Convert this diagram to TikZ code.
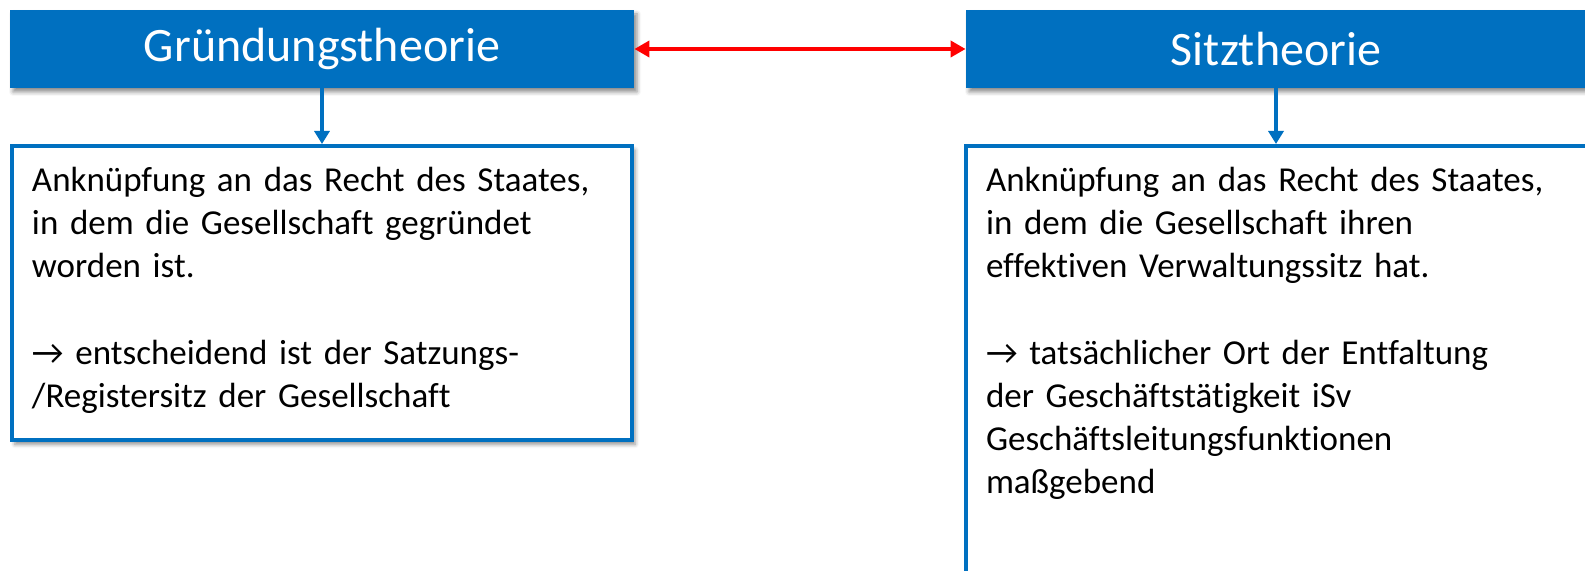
\documentclass[tikz,border=0pt]{standalone}
\usepackage{fontspec}
\setmainfont{Carlito}[Ligatures=NoCommon]
\usepackage{tikz}
\usetikzlibrary{arrows.meta,shadows.blur}
\definecolor{hdblue}{RGB}{0,112,192}

\begin{document}
\begin{tikzpicture}[x=0.5pt,y=-0.5pt,
    head_node/.style={rectangle,fill=hdblue,text=white,minimum height=39pt,inner sep=0pt,
        font=\fontsize{24}{28}\selectfont,
        blur shadow={shadow xshift=1.5pt,shadow yshift=-2pt,shadow blur radius=2pt,shadow opacity=45}},
    text_node/.style={rectangle,draw=hdblue,line width=2pt,fill=white,anchor=north west,
        align=left,inner xsep=10pt,inner ysep=10.5pt,text width=290pt,
        font=\fontsize{17.5}{21.6}\selectfont,
        blur shadow={shadow xshift=1.5pt,shadow yshift=-2pt,shadow blur radius=2pt,shadow opacity=45}},
    down_arrow/.style={draw=hdblue,line width=2pt,-{Triangle[width=7.5pt,length=6.5pt]}},
    both_arrow/.style={draw=red,line width=2pt,{Triangle[width=8pt,length=7.5pt]}-{Triangle[width=8pt,length=7.5pt]}}]
    \clip (0,0) rectangle (1585,571);
    \useasboundingbox (0,0) rectangle (1585,571);

    \node[head_node,minimum width=312pt] (gruendung) at (322,49) {Gründungstheorie};
    \node[head_node,minimum width=310pt] (sitz) at (1276,49) {Sitztheorie};

    \node[text_node,text depth=114pt] (gruendungtext) at (10,144) {Anknüpfung an das Recht des Staates,\\
        in dem die Gesellschaft gegründet\\
        worden ist.\\[21.6pt]
        → entscheidend ist der Satzungs-\\
        /Registersitz der Gesellschaft};
    \node[text_node,text width=310pt,text depth=240pt] (sitztext) at (964,144) {Anknüpfung an das Recht des Staates,\\
        in dem die Gesellschaft ihren\\
        effektiven Verwaltungssitz hat.\\[21.6pt]
        → tatsächlicher Ort der Entfaltung\\
        der Geschäftstätigkeit iSv\\
        Geschäftsleitungsfunktionen\\
        maßgebend};

    \draw[down_arrow] (gruendung) -- (gruendungtext);
    \draw[down_arrow] (sitz.south) -- (sitz.south |- sitztext.north);
    \draw[both_arrow] (gruendung.east) -- (sitz.west);
\end{tikzpicture}
\end{document}
